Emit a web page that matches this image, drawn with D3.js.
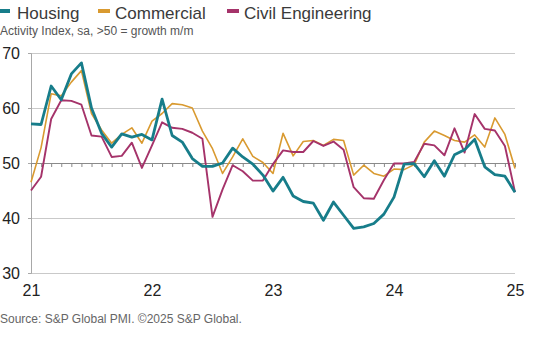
<!DOCTYPE html>
<html>
<head>
<meta charset="utf-8">
<script src="https://cdn.jsdelivr.net/npm/d3@7"></script>
<style>
  body { margin: 0; background: #fff; }
  svg { display: block; font-family: "Liberation Sans", Arial, sans-serif; }
</style>
</head>
<body>
<svg id="chart" width="534" height="337"></svg>
<script>
// monthly construction activity indices, Jan 2021 - Jan 2025
const months = d3.range(49).map(i => {
  const y = 2021 + Math.floor(i / 12), m = i % 12 + 1;
  return `${y}-${String(m).padStart(2, '0')}`;
});

const housing = [
  57.1, 57.0, 64.0, 61.5, 66.2, 68.2, 60.0, 55.4, 52.9, 55.3, 54.7, 55.2,
  54.2, 61.6, 55.0, 53.8, 50.8, 49.4, 49.4, 50.0, 52.7, 51.1, 49.8, 47.8,
  44.9, 47.4, 44.0, 43.0, 42.7, 39.6, 42.9, 40.5, 38.1, 38.4, 39.0, 40.7,
  43.8, 49.8, 49.9, 47.5, 50.4, 47.6, 51.5, 52.4, 54.3, 49.3, 47.9, 47.6,
  44.7
];
const commercial = [
  46.5, 52.8, 62.6, 62.2, 64.7, 66.8, 59.0, 56.0, 53.6, 55.2, 56.4, 53.6,
  57.6, 59.0, 60.8, 60.6, 60.0, 55.8, 52.6, 48.1, 51.1, 54.4, 51.2, 50.1,
  48.1, 55.4, 51.3, 53.9, 54.1, 53.2, 54.3, 54.1, 47.8, 49.6, 48.1, 47.6,
  48.9, 48.8, 49.7, 53.8, 55.8, 55.0, 54.1, 53.8, 55.1, 52.9, 58.2, 55.2,
  49.0
];
const civil = [
  45.0, 47.5, 58.0, 61.4, 61.3, 60.6, 55.0, 54.8, 51.1, 51.3, 53.7, 49.1,
  53.2, 57.4, 56.4, 56.2, 55.5, 54.4, 40.2, 45.2, 49.6, 48.5, 46.8, 46.8,
  49.8, 52.3, 52.0, 52.0, 54.0, 53.1, 53.9, 52.4, 45.6, 43.6, 43.5, 46.9,
  49.9, 49.9, 50.2, 53.5, 53.2, 51.4, 56.3, 51.9, 58.9, 56.2, 55.9, 53.1,
  44.7
];

const seriesNames = ['Housing', 'Commercial', 'Civil Engineering'];
const seriesColors = ['#177d8a', '#d99a30', '#a5336a'];
const yTicks = [30, 40, 50, 60, 70];
const yearLabels = ['21', '22', '23', '24', '25'];

const series = [
  {name: seriesNames[0], color: seriesColors[0], values: housing, width: 2.8},
  {name: seriesNames[1], color: seriesColors[1], values: commercial, width: 1.6},
  {name: seriesNames[2], color: seriesColors[2], values: civil, width: 1.9}
];

const svg = d3.select('#chart');

const x = d3.scalePoint()
  .domain(months)
  .range([31, 515]);

const y = d3.scaleLinear()
  .domain([30, 70])
  .range([273, 53]);

// horizontal gridlines
svg.append('g')
    .attr('transform', 'translate(31,0)')
    .call(d3.axisLeft(y).tickValues(yTicks).tickSize(-484).tickFormat(''))
    .call(g => g.select('.domain').remove())
    .call(g => g.selectAll('line').attr('stroke', '#c9c9c9'));

// y axis with labels
svg.append('g')
    .attr('transform', 'translate(31,0)')
    .call(d3.axisLeft(y).tickValues(yTicks).tickSize(3).tickPadding(8))
    .call(g => g.select('.domain').attr('stroke', '#a8a8a8'))
    .call(g => g.selectAll('line').attr('stroke', '#a8a8a8'))
    .call(g => g.selectAll('text')
      .attr('font-size', 16)
      .attr('fill', '#222'));

// year labels along the bottom
const janMonths = months.filter(m => m.endsWith('-01'));
svg.append('g')
    .attr('transform', `translate(0,${y(30)})`)
    .call(d3.axisBottom(x).tickValues(janMonths).tickSize(0).tickPadding(12)
      .tickFormat((d, i) => yearLabels[i]))
    .call(g => g.select('.domain').remove())
    .call(g => g.selectAll('text')
      .attr('font-size', 16)
      .attr('fill', '#222'));

// 50 line with monthly ticks
svg.append('g')
    .attr('transform', `translate(0,${y(50)})`)
    .call(d3.axisBottom(x).tickSize(4).tickFormat('').tickSizeOuter(0))
    .call(g => g.select('.domain').attr('stroke', '#8a8a8a'))
    .call(g => g.selectAll('line').attr('stroke', '#8a8a8a'));

const line = d3.line()
  .x((d, i) => x(months[i]))
  .y(d => y(d));

// commercial underneath, housing on top
[series[1], series[2], series[0]].forEach(s => {
  svg.append('path')
    .datum(s.values)
    .attr('fill', 'none')
    .attr('stroke', s.color)
    .attr('stroke-width', s.width)
    .attr('stroke-linejoin', 'round')
    .attr('d', line);
});

// legend
const legendX = [0, 98, 227];
const legend = svg.append('g');
series.forEach((s, i) => {
  legend.append('rect')
    .attr('x', legendX[i])
    .attr('y', 9)
    .attr('width', i === 0 ? 10 : 12)
    .attr('height', 4)
    .attr('fill', s.color);
  legend.append('text')
    .attr('x', legendX[i] + 17)
    .attr('y', 19)
    .attr('font-size', 17)
    .attr('fill', '#3a3a3a')
    .text(s.name);
});

svg.append('text')
  .attr('x', 0)
  .attr('y', 35)
  .attr('font-size', 12)
  .attr('fill', '#555')
  .text('Activity Index, sa, >50 = growth m/m');

svg.append('text')
  .attr('x', 0)
  .attr('y', 323)
  .attr('font-size', 12)
  .attr('fill', '#666')
  .text('Source: S&P Global PMI. ©2025 S&P Global.');
</script>
</body>
</html>
